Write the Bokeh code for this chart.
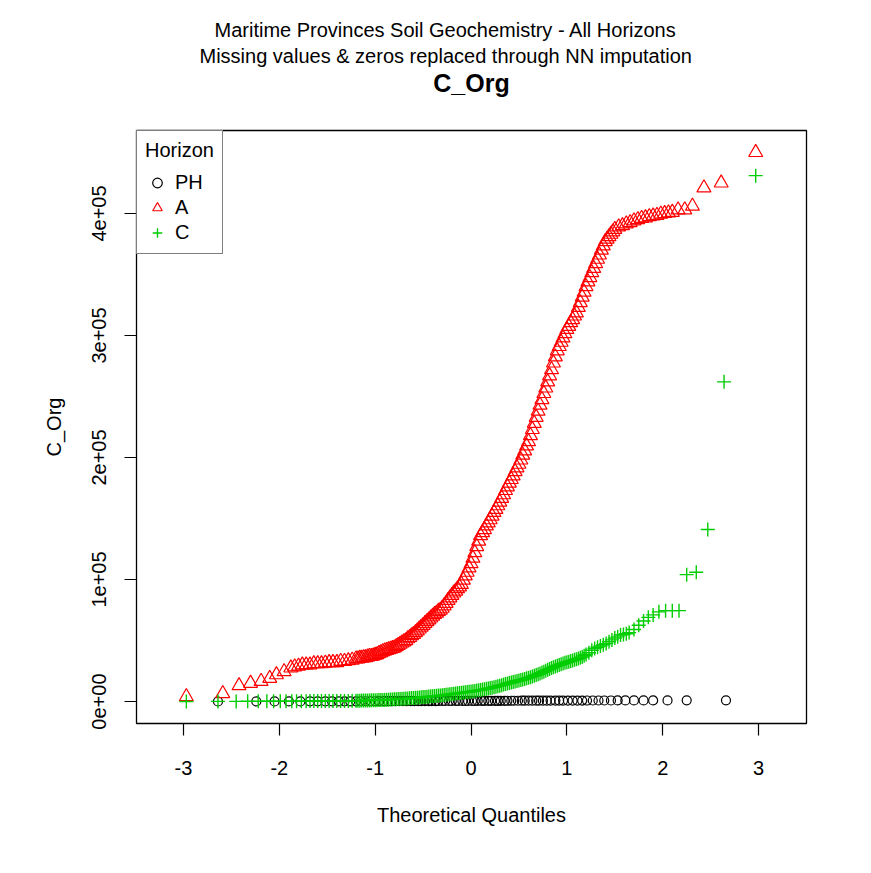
from bokeh.plotting import figure
from bokeh.models import Range1d, FixedTicker, Legend, LegendItem, Title
from bokeh.embed import file_html
from bokeh.resources import INLINE

FONT = "Liberation Sans"

# ---------------- data ----------------
# Theoretical quantiles and C_Org values for each horizon
ph_q = [-2.64, -2.24, -2.05, -1.90, -1.78, -1.68, -1.60, -1.52, -1.45, -1.38,
        -1.32, -1.26, -1.20, -1.15, -1.10, -1.05, -1.00, -0.96, -0.91, -0.87,
        -0.83, -0.79, -0.75, -0.71, -0.67, -0.63, -0.59, -0.55, -0.52, -0.48,
        -0.44, -0.41, -0.37, -0.34, -0.30, -0.27, -0.23, -0.20, -0.16, -0.13,
        -0.09, -0.06, -0.03, 0.01, 0.04, 0.07, 0.11, 0.14, 0.18, 0.21,
        0.25, 0.28, 0.31, 0.35, 0.38, 0.42, 0.45, 0.49, 0.53, 0.56,
        0.60, 0.64, 0.68, 0.71, 0.75, 0.79, 0.83, 0.88, 0.92, 0.96,
        1.01, 1.06, 1.11, 1.16, 1.21, 1.27, 1.33, 1.39, 1.46, 1.53,
        1.61, 1.70, 1.80, 1.90, 2.05, 2.25, 2.66]
ph_val = [50, 80, 100, 120, 130, 140, 150, 160, 170, 180,
          190, 200, 210, 220, 230, 240, 250, 260, 270, 280,
          290, 300, 310, 320, 330, 340, 350, 360, 370, 380,
          390, 400, 410, 420, 430, 440, 450, 460, 470, 480,
          490, 500, 510, 520, 530, 540, 550, 560, 570, 580,
          590, 600, 610, 620, 630, 640, 650, 660, 670, 680,
          690, 700, 710, 720, 730, 740, 750, 760, 770, 780,
          790, 800, 810, 820, 830, 840, 850, 860, 870, 880,
          890, 900, 910, 920, 940, 960, 990]

a_q = [-2.97, -2.59, -2.42, -2.30, -2.19, -2.10, -2.03, -1.95, -1.88, -1.84,
       -1.80, -1.76, -1.72, -1.68, -1.64, -1.60, -1.56, -1.52, -1.48, -1.44,
       -1.40, -1.36, -1.32, -1.28, -1.24,
       -1.20, -1.18, -1.16, -1.14, -1.12, -1.10, -1.08, -1.06, -1.04, -1.02,
       -1.00, -0.98, -0.96, -0.94, -0.92, -0.90, -0.88, -0.86, -0.84, -0.82,
       -0.80, -0.78, -0.76, -0.74, -0.72, -0.70, -0.68, -0.66, -0.64, -0.62,
       -0.60, -0.58, -0.56, -0.54, -0.52, -0.50, -0.48, -0.46, -0.44, -0.42,
       -0.40, -0.38, -0.36, -0.34, -0.32, -0.30, -0.28, -0.26, -0.24, -0.22,
       -0.20, -0.18, -0.16, -0.14, -0.12, -0.10, -0.08, -0.06, -0.04, -0.02,
       0.00, 0.02, 0.04, 0.06, 0.08, 0.10, 0.12, 0.14, 0.16, 0.18,
       0.20, 0.22, 0.24, 0.26, 0.28, 0.30, 0.32, 0.34, 0.36, 0.38,
       0.40, 0.42, 0.44, 0.46, 0.48, 0.50, 0.52, 0.54, 0.56, 0.58,
       0.60, 0.62, 0.64, 0.66, 0.68, 0.70, 0.72, 0.74, 0.76, 0.78,
       0.80, 0.82, 0.84, 0.86, 0.88, 0.90, 0.92, 0.94, 0.96, 0.98,
       1.00, 1.02, 1.04, 1.06, 1.08, 1.10, 1.12, 1.14, 1.16, 1.18,
       1.20, 1.22, 1.24, 1.26, 1.28, 1.30, 1.32, 1.34, 1.36, 1.38,
       1.40, 1.42, 1.44, 1.46, 1.48, 1.50,
       1.54, 1.58, 1.62, 1.66, 1.70, 1.74, 1.78, 1.82, 1.86, 1.90,
       1.94, 1.98, 2.02, 2.06, 2.10, 2.16, 2.23, 2.31, 2.43, 2.61, 2.97]
a_val = [4000, 6500, 13000, 15000, 16500, 19000, 22000, 24500, 27500, 28500,
         29000, 30000, 30000, 30000, 31000, 31000, 31000, 31500, 32000, 32000,
         32000, 33000, 33000, 33500, 34000,
         35000, 35000, 35500, 35500, 36000, 36000, 36500, 37000, 37000, 37500,
         38000, 38500, 39500, 40000, 41000, 41500, 42000, 42500, 43000, 43500,
         44000, 45000, 46000, 47000, 48000, 49000, 50000, 51500, 52500, 54000,
         55000, 56500, 58000, 59500, 61000, 62500, 64000, 65500, 67000, 68500,
         70000, 71500, 72500, 74000, 75000, 76500, 78500, 80500, 83000, 85000,
         87000, 89000, 90500, 92500, 94000, 96000, 99500, 103000, 106000, 109500,
         113000, 117500, 122000, 127000, 131500, 136000, 138500, 141000, 144000, 146500,
         149000, 152000, 155000, 157500, 160500, 163500, 166500, 169500, 173000, 176000,
         179000, 182000, 185000, 188500, 191500, 194500, 198000, 202000, 205500, 209500,
         213000, 218000, 223000, 228000, 233000, 238000, 243000, 247500, 252500, 257000,
         262000, 267000, 272000, 277500, 282500, 287500, 291000, 294500, 298000, 301500,
         305000, 307500, 310500, 313000, 316000, 318500, 323000, 327000, 331500, 335500,
         340000, 344000, 347500, 351500, 355000, 359000, 362500, 366000, 370000, 373500,
         377000, 379000, 381000, 383000, 385000, 387000,
         389000, 390000, 391500, 392500, 394000, 395000, 396000, 396500, 397500, 398000,
         398500, 399500, 400000, 400500, 401000, 403000, 403000, 406000, 421000, 425000, 450000]

c_q = [-2.97, -2.64, -2.45, -2.33, -2.22, -2.13, -2.06, -1.99, -1.93, -1.87,
       -1.82, -1.77, -1.72, -1.68, -1.64, -1.60, -1.56, -1.52, -1.48, -1.44,
       -1.40, -1.36, -1.32, -1.28, -1.24,
       -1.20, -1.18, -1.16, -1.14, -1.12, -1.10, -1.08, -1.06, -1.04, -1.02,
       -1.00, -0.98, -0.96, -0.94, -0.92, -0.90, -0.88, -0.86, -0.84, -0.82,
       -0.80, -0.78, -0.76, -0.74, -0.72, -0.70, -0.68, -0.66, -0.64, -0.62,
       -0.60, -0.58, -0.56, -0.54, -0.52, -0.50, -0.48, -0.46, -0.44, -0.42,
       -0.40, -0.38, -0.36, -0.34, -0.32, -0.30, -0.28, -0.26, -0.24, -0.22,
       -0.20, -0.18, -0.16, -0.14, -0.12, -0.10, -0.08, -0.06, -0.04, -0.02,
       0.00, 0.02, 0.04, 0.06, 0.08, 0.10, 0.12, 0.14, 0.16, 0.18,
       0.20, 0.22, 0.24, 0.26, 0.28, 0.30, 0.32, 0.34, 0.36, 0.38,
       0.40, 0.42, 0.44, 0.46, 0.48, 0.50, 0.52, 0.54, 0.56, 0.58,
       0.60, 0.62, 0.64, 0.66, 0.68, 0.70, 0.72, 0.74, 0.76, 0.78,
       0.80, 0.82, 0.84, 0.86, 0.88, 0.90, 0.92, 0.94, 0.96, 0.98,
       1.00, 1.02, 1.04, 1.06, 1.08, 1.10, 1.12, 1.14, 1.16, 1.18,
       1.20, 1.23, 1.26, 1.29, 1.32, 1.35, 1.38, 1.41, 1.44, 1.47,
       1.50, 1.53, 1.56, 1.59, 1.62, 1.65, 1.70, 1.75, 1.80,
       1.85, 1.90, 1.96, 2.03, 2.10, 2.17, 2.25, 2.35, 2.47, 2.64,
       2.97]
c_val = [0, 100, 100, 200, 200, 200, 200, 300, 300, 300,
         300, 300, 300, 400, 400, 400, 400, 400, 400, 500,
         500, 500, 500, 500, 600,
         600, 650, 700, 750, 800, 850, 900, 950, 1000, 1050,
         1100, 1150, 1200, 1250, 1300, 1350, 1450, 1550, 1650, 1750,
         1800, 1900, 2000, 2100, 2200, 2300, 2400, 2550, 2650, 2800,
         2900, 3050, 3200, 3350, 3500, 3650, 3800, 3950, 4100, 4250,
         4400, 4550, 4700, 4850, 5000, 5200, 5400, 5600, 5800, 6000,
         6200, 6400, 6600, 6800, 7000, 7200, 7400, 7600, 7800, 8000,
         8200, 8450, 8700, 8950, 9250, 9500, 9800, 10100, 10400, 10700,
         11000, 11400, 11800, 12200, 12600, 13000, 13400, 13900, 14300, 14800,
         15200, 15600, 16000, 16400, 16800, 17200, 17600, 18100, 18500, 19000,
         19500, 20000, 20600, 21100, 21700, 22300, 23000, 23700, 24500, 25200,
         26000, 26700, 27400, 28100, 28800, 29400, 30000, 30600, 31100, 31700,
         32200, 32700, 33200, 33700, 34200, 34700, 35200, 35800, 36500, 37500,
         38500, 40000, 42000, 43500, 44500, 45500, 46500, 47500, 49000, 50500,
         52000, 53000, 54500, 55000, 55500, 56500, 59000, 62500, 66000,
         69000, 71000, 73500, 74500, 74500, 74500, 104000, 106000, 141000, 262000,
         431000]

x_ticks = [-3, -2, -1, 0, 1, 2, 3]
x_tick_labels = ["-3", "-2", "-1", "0", "1", "2", "3"]
y_ticks = [0, 100000, 200000, 300000, 400000]
y_tick_labels = ["0e+00", "1e+05", "2e+05", "3e+05", "4e+05"]

# ---------------- figure ----------------
p = figure(frame_width=670, frame_height=593,
           min_border_left=136, min_border_right=65,
           min_border_top=130, min_border_bottom=150,
           x_range=Range1d(-3.49, 3.50), y_range=Range1d(-18000, 468000),
           output_backend="svg", toolbar_location=None)

p.background_fill_color = "white"
p.border_fill_color = "white"
p.outline_line_color = "black"
p.outline_line_width = 1.3
p.xgrid.visible = False
p.ygrid.visible = False

for ax in (p.xaxis[0], p.yaxis[0]):
    ax.axis_line_color = None
    ax.major_tick_line_color = "black"
    ax.major_tick_line_width = 1.2
    ax.major_tick_out = 12
    ax.major_tick_in = 0
    ax.minor_tick_line_color = None
    ax.major_label_text_font = FONT
    ax.major_label_text_font_size = "20px"
    ax.major_label_text_color = "black"
    ax.axis_label_text_font = FONT
    ax.axis_label_text_font_size = "20px"
    ax.axis_label_text_font_style = "normal"
    ax.axis_label_text_color = "black"

p.xaxis.ticker = FixedTicker(ticks=x_ticks)
p.xaxis.major_label_overrides = {float(t): s for t, s in zip(x_ticks, x_tick_labels)}
p.xaxis.axis_label = "Theoretical Quantiles"
p.xaxis.major_label_standoff = 25
p.xaxis.axis_label_standoff = 26

p.yaxis.ticker = FixedTicker(ticks=y_ticks)
p.yaxis.major_label_overrides = {float(t): s for t, s in zip(y_ticks, y_tick_labels)}
p.yaxis.major_label_orientation = "vertical"
p.yaxis.axis_label = "C_Org"
p.yaxis.major_label_standoff = 18
p.yaxis.axis_label_standoff = 25

r_ph = p.scatter(ph_q, ph_val, marker="circle", size=9, fill_color=None,
                 line_color="black", line_width=1.2)
r_a = p.scatter(a_q, a_val, marker="triangle", size=14, fill_color=None,
                line_color="#FF0000", line_width=1.2)
r_c = p.scatter(c_q, c_val, marker="cross", size=14,
                line_color="#00CD00", line_width=1.4)

legend = Legend(items=[LegendItem(label="PH", renderers=[r_ph]),
                       LegendItem(label="A", renderers=[r_a]),
                       LegendItem(label="C", renderers=[r_c])],
                location="top_left", title="Horizon", margin=0, padding=8,
                spacing=0, label_height=25, glyph_height=25, glyph_width=24,
                label_standoff=6, title_standoff=8,
                border_line_color="black", border_line_width=1.2,
                background_fill_color="white", background_fill_alpha=1.0,
                label_text_font=FONT, label_text_font_size="20px",
                label_text_color="black",
                title_text_font=FONT, title_text_font_size="20px",
                title_text_font_style="normal", title_text_color="black")
p.add_layout(legend)

# Titles: the first added sits closest to the plot frame
spacer = Title(text=" ", align="center", standoff=30, text_font_size="2px")
t3 = Title(text="C_Org", align="center", standoff=0,
           text_font=FONT, text_font_size="25px", text_font_style="bold",
           text_color="black")
t2 = Title(text="Missing values & zeros replaced through NN imputation",
           align="left", offset=63, standoff=0,
           text_font=FONT, text_font_size="20px", text_font_style="normal",
           text_color="black")
t1 = Title(text="Maritime Provinces Soil Geochemistry - All Horizons",
           align="left", offset=78, standoff=4,
           text_font=FONT, text_font_size="20px", text_font_style="normal",
           text_color="black")
p.add_layout(spacer, "above")
p.add_layout(t3, "above")
p.add_layout(t2, "above")
p.add_layout(t1, "above")

open("out.html", "w").write(file_html(p, INLINE))
